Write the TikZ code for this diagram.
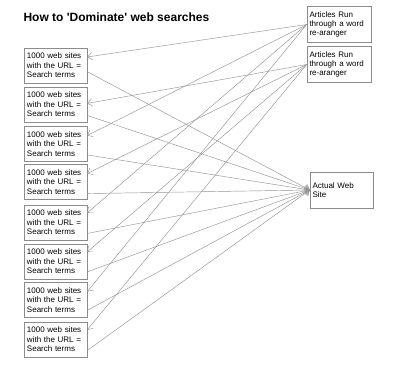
\documentclass[tikz,border=0pt]{standalone}
\usepackage{fontspec}
\setmainfont{Liberation Sans}
\usetikzlibrary{arrows.meta}
\begin{document}
\begin{tikzpicture}[
  x=1pt, y=-1pt,
  sitebox/.style={rectangle, draw=gray!90, line width=0.6pt, text width=57pt,
    minimum height=35pt, inner xsep=3pt, inner ysep=2pt, align=left,
    font=\fontsize{8}{9.4}\selectfont},
  artbox/.style={rectangle, draw=gray!90, line width=0.6pt, text width=59pt,
    minimum height=36pt, inner xsep=2.5pt, inner ysep=2pt, align=left,
    font=\fontsize{8}{9.4}\selectfont},
  titletext/.style={font=\bfseries\fontsize{12}{14}\selectfont, anchor=west},
  arr/.style={-{Straight Barb[length=4.5pt, width=7.5pt]}, gray!85, line width=0.45pt}
]
\useasboundingbox (0,0) rectangle (400,365);

% Title
\node[titletext] (title) at (20, 17) {How to \textquotesingle Dominate\textquotesingle\ web searches};

% Right column: articles and the real site
\node[artbox] (art1) at (339, 24.5) {Articles Run\\through a word\\re-aranger};
\node[artbox] (art2) at (339, 64.5) {Articles Run\\through a word\\re-aranger};
\node[artbox, text width=58pt] (web) at (341.5, 190) {Actual Web\\Site};

% Left column: the 1000-site boxes
\node[sitebox] (site1) at (55.5, 65.5) {1000 web sites\\with the URL =\\Search terms};
\node[sitebox] (site2) at (55.5, 104.5) {1000 web sites\\with the URL =\\Search terms};
\node[sitebox] (site3) at (55.5, 144) {1000 web sites\\with the URL =\\Search terms};
\node[sitebox] (site4) at (55.5, 182) {1000 web sites\\with the URL =\\Search terms};
\node[sitebox] (site5) at (55.5, 222.5) {1000 web sites\\with the URL =\\Search terms};
\node[sitebox] (site6) at (55.5, 261.5) {1000 web sites\\with the URL =\\Search terms};
\node[sitebox] (site7) at (55.5, 300) {1000 web sites\\with the URL =\\Search terms};
\node[sitebox] (site8) at (55.5, 339.5) {1000 web sites\\with the URL =\\Search terms};

% Arrows: articles -> sites
\draw[arr] (art1.west) -- (site1.15);
\draw[arr] (art2.west) -- (site2.2);
\draw[arr] (art1.west) -- (site3.15);
\draw[arr] (art2.west) -- (site4.15);
\draw[arr] (art1.west) -- (site5.17);
\draw[arr] (art2.west) -- (site6.17);
\draw[arr] (art1.west) -- (site7.15);
\draw[arr] (art2.west) -- (site8.17);

% Arrows: sites -> actual web site
\draw[arr] (site1.-11) -- (web.west);
\draw[arr] (site2.-19) -- (web.west);
\draw[arr] (site3.-19) -- (web.west);
\draw[arr] (site4.-20) -- (web.west);
\draw[arr] (site5.-19) -- (web.west);
\draw[arr] (site6.-18) -- (web.west);
\draw[arr] (site7.-18) -- (web.west);
\draw[arr] (site8.-19) -- (web.west);

\end{tikzpicture}
\end{document}
